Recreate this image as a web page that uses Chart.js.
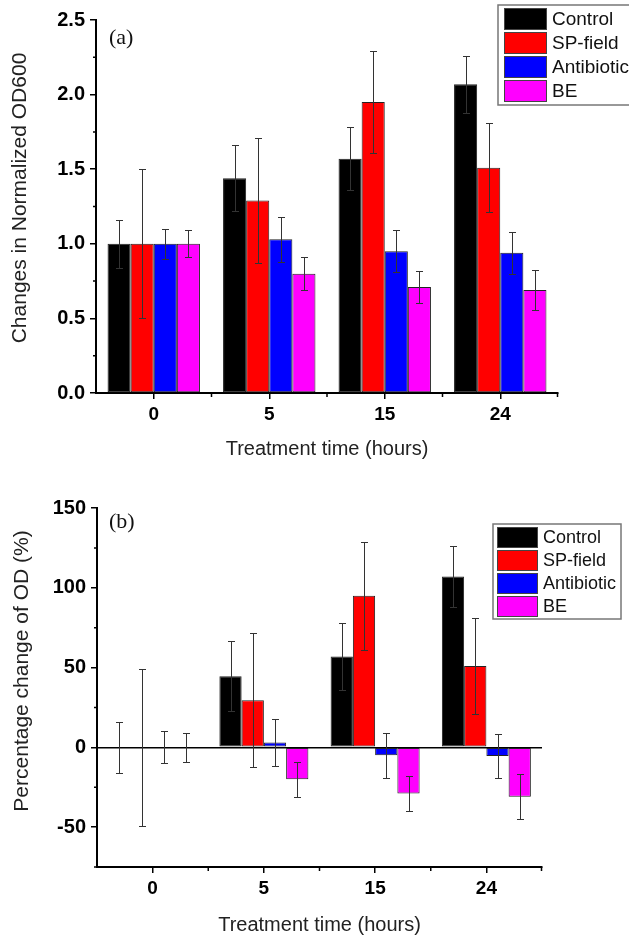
<!DOCTYPE html>
<html>
<head>
<meta charset="utf-8">
<script src="https://cdn.jsdelivr.net/npm/chart.js@4.4.1/dist/chart.umd.min.js"></script>
<style>
  body { margin: 0; background: #fff; }
  #wrap { position: relative; width: 629px; height: 937px; }
  canvas { position: absolute; left: 0; }
</style>
</head>
<body>
<div id="wrap">
  <canvas id="chartA" width="629" height="465" style="top:0;width:629px;height:465px"></canvas>
  <canvas id="chartB" width="629" height="472" style="top:465px;width:629px;height:472px"></canvas>
</div>
<script>
// categories and series
const hours = ['0', '5', '15', '24'];
const seriesNames = ['Control', 'SP-field', 'Antibiotic', 'BE'];
const seriesColors = ['#000000', '#ff0000', '#0000ff', '#ff00ff'];

// (a) normalized OD600
const normControl = [1.0, 1.44, 1.57, 2.07];
const normControlErr = [0.16, 0.22, 0.21, 0.19];
const normSpField = [1.0, 1.29, 1.95, 1.51];
const normSpFieldErr = [0.5, 0.42, 0.34, 0.30];
const normAntibiotic = [1.0, 1.03, 0.95, 0.94];
const normAntibioticErr = [0.10, 0.15, 0.14, 0.14];
const normBe = [1.0, 0.80, 0.71, 0.69];
const normBeErr = [0.09, 0.11, 0.11, 0.135];

// (b) percentage change of OD
const pctControl = [0, 44.5, 57, 107];
const pctControlErr = [16, 22, 21, 19];
const pctSpField = [0, 29.5, 95, 51];
const pctSpFieldErr = [49, 42, 34, 30];
const pctAntibiotic = [0, 3, -5, -5.5];
const pctAntibioticErr = [10, 15, 14, 14];
const pctBe = [0, -20, -29, -31];
const pctBeErr = [9, 11, 11, 14];

const SANS = 'Arial, "Liberation Sans", sans-serif';
const SERIF = '"Times New Roman", "Liberation Serif", serif';

// error bars drawn on top of the bars
const errorBarPlugin = {
  id: 'errorBars',
  afterDatasetsDraw(chart, args, opts) {
    const ctx = chart.ctx;
    const yScale = chart.scales.y;
    ctx.save();
    ctx.strokeStyle = '#333';
    ctx.lineWidth = 1;
    chart.data.datasets.forEach((ds, i) => {
      const meta = chart.getDatasetMeta(i);
      meta.data.forEach((bar, j) => {
        const v = ds.data[j];
        const e = opts.errors[i][j];
        const x = Math.round(bar.x) + 0.5;
        const yT = Math.round(yScale.getPixelForValue(v + e)) + 0.5;
        const yB = Math.round(yScale.getPixelForValue(v - e)) + 0.5;
        ctx.beginPath();
        ctx.moveTo(x, yT); ctx.lineTo(x, yB);
        ctx.moveTo(x - 3.5, yT); ctx.lineTo(x + 3.5, yT);
        ctx.moveTo(x - 3.5, yB); ctx.lineTo(x + 3.5, yB);
        ctx.stroke();
      });
    });
    ctx.restore();
  }
};

// minor ticks, y title, panel label and framed legend
const decorPlugin = {
  id: 'decor',
  afterDraw(chart, args, o) {
    const ctx = chart.ctx;
    const area = chart.chartArea;
    const xs = chart.scales.x, ys = chart.scales.y;
    ctx.save();
    ctx.strokeStyle = '#000';
    ctx.lineWidth = 1.5;
    // y minor ticks
    ctx.beginPath();
    for (let v = ys.min; v <= ys.max + 1e-9; v += o.minorStep) {
      const r = v / o.majorStep;
      if (Math.abs(r - Math.round(r)) < 1e-6) continue;
      const y = ys.getPixelForValue(v);
      ctx.moveTo(area.left - 3, y); ctx.lineTo(area.left, y);
    }
    // x minor ticks on category borders
    const n = xs.ticks.length;
    for (let i = 1; i < n; i++) {
      const x = (xs.getPixelForValue(i - 1) + xs.getPixelForValue(i)) / 2;
      ctx.moveTo(x, area.bottom); ctx.lineTo(x, area.bottom + 4);
    }
    ctx.moveTo(area.right - 0.5, area.bottom); ctx.lineTo(area.right - 0.5, area.bottom + 4);
    ctx.stroke();

    // y title
    ctx.fillStyle = '#222';
    ctx.font = '21px ' + SANS;
    ctx.textAlign = 'center';
    ctx.textBaseline = 'middle';
    ctx.save();
    ctx.translate(o.yTitle.x, o.yTitle.y);
    ctx.rotate(-Math.PI / 2);
    ctx.fillText(o.yTitle.text, 0, 0);
    ctx.restore();

    // panel label
    ctx.fillStyle = '#111';
    ctx.font = '22px ' + SERIF;
    ctx.textAlign = 'left';
    ctx.fillText(o.panel.text, o.panel.x, o.panel.y);

    // legend
    const L = o.legend;
    ctx.strokeStyle = '#777';
    ctx.lineWidth = 1.5;
    ctx.strokeRect(L.left, L.top, L.right - L.left, L.bottom - L.top);
    ctx.font = L.fontSize + 'px ' + SANS;
    chart.data.datasets.forEach((ds, i) => {
      const top = L.rowTop + i * L.pitch;
      ctx.fillStyle = ds.backgroundColor;
      ctx.fillRect(L.swatchX, top, L.swatchW, L.swatchH);
      ctx.strokeStyle = '#444';
      ctx.lineWidth = 1;
      ctx.strokeRect(L.swatchX + 0.5, top + 0.5, L.swatchW, L.swatchH);
      ctx.fillStyle = '#111';
      ctx.fillText(ds.label, L.textX, top + L.swatchH / 2 + 1);
    });
    ctx.restore();
  }
};

function makeDatasets(values) {
  return seriesNames.map((name, i) => ({
    label: name,
    data: values[i],
    backgroundColor: seriesColors[i],
    borderColor: '#222',
    borderWidth: 1,
    borderSkipped: false,
    categoryPercentage: 0.8,
    barPercentage: 1.0
  }));
}

function makeConfig(p) {
  return {
    type: 'bar',
    data: { labels: hours, datasets: makeDatasets(p.values) },
    options: {
      responsive: false,
      animation: false,
      devicePixelRatio: 1,
      layout: { padding: p.padding },
      plugins: {
        legend: { display: false },
        tooltip: { enabled: false },
        errorBars: { errors: p.errors },
        decor: p.decor
      },
      scales: {
        x: {
          afterFit: s => { s.height = p.xHeight; },
          grid: { display: true, drawOnChartArea: false, offset: false, tickLength: 6, tickColor: '#000', lineWidth: 1.5 },
          border: { display: true, color: '#000', width: 2 },
          ticks: { color: '#000', padding: 4, font: { family: SANS, size: 19, weight: 'bold' } },
          title: { display: true, text: 'Treatment time (hours)', color: '#222',
                   font: { family: SANS, size: 20 }, padding: { top: 0, bottom: p.xTitlePad } }
        },
        y: {
          min: p.yMin, max: p.yMax,
          afterFit: s => { s.width = p.yWidth; },
          afterBuildTicks: s => { s.ticks = s.ticks.filter(t => Math.abs(t.value / p.step - Math.round(t.value / p.step)) < 1e-6); },
          grid: p.yGrid,
          border: { display: true, color: '#000', width: 2 },
          ticks: { stepSize: p.step, color: '#000', padding: 5, callback: p.fmt,
                   font: { family: SANS, size: 20, weight: 'bold' } }
        }
      }
    },
    plugins: [errorBarPlugin, decorPlugin]
  };
}

new Chart(document.getElementById('chartA'), makeConfig({
  values: [normControl, normSpField, normAntibiotic, normBe],
  errors: [normControlErr, normSpFieldErr, normAntibioticErr, normBeErr],
  padding: { top: 20, right: 71, left: 0, bottom: 0 },
  xHeight: 72, yWidth: 96, xTitlePad: 4,
  yMin: 0, yMax: 2.5, step: 0.5,
  fmt: v => v.toFixed(1),
  yGrid: { drawOnChartArea: false, tickLength: 6, tickColor: '#000', lineWidth: 1.5 },
  decor: {
    minorStep: 0.25, majorStep: 0.5,
    yTitle: { text: 'Changes in Normalized OD600', x: 20, y: 198 },
    panel: { text: '(a)', x: 109, y: 38 },
    legend: { left: 498, top: 5, right: 640, bottom: 105, rowTop: 8, pitch: 24,
              swatchX: 504, swatchW: 42, swatchH: 21, textX: 552, fontSize: 19 }
  }
}));

new Chart(document.getElementById('chartB'), makeConfig({
  values: [pctControl, pctSpField, pctAntibiotic, pctBe],
  errors: [pctControlErr, pctSpFieldErr, pctAntibioticErr, pctBeErr],
  padding: { top: 43, right: 87, left: 0, bottom: 0 },
  xHeight: 70, yWidth: 97, xTitlePad: 0,
  yMin: -75, yMax: 150, step: 50,
  fmt: v => String(v),
  yGrid: {
    drawOnChartArea: true, tickLength: 6, tickColor: '#000', lineWidth: 1.5,
    color: c => (c.tick && c.tick.value === 0) ? '#000' : 'rgba(0,0,0,0)'
  },
  decor: {
    minorStep: 25, majorStep: 50,
    yTitle: { text: 'Percentage change of OD (%)', x: 22, y: 206 },
    panel: { text: '(b)', x: 109, y: 57 },
    legend: { left: 493, top: 59, right: 621, bottom: 154, rowTop: 62, pitch: 23,
              swatchX: 497, swatchW: 40, swatchH: 20, textX: 543, fontSize: 18 }
  }
}));
</script>
</body>
</html>
